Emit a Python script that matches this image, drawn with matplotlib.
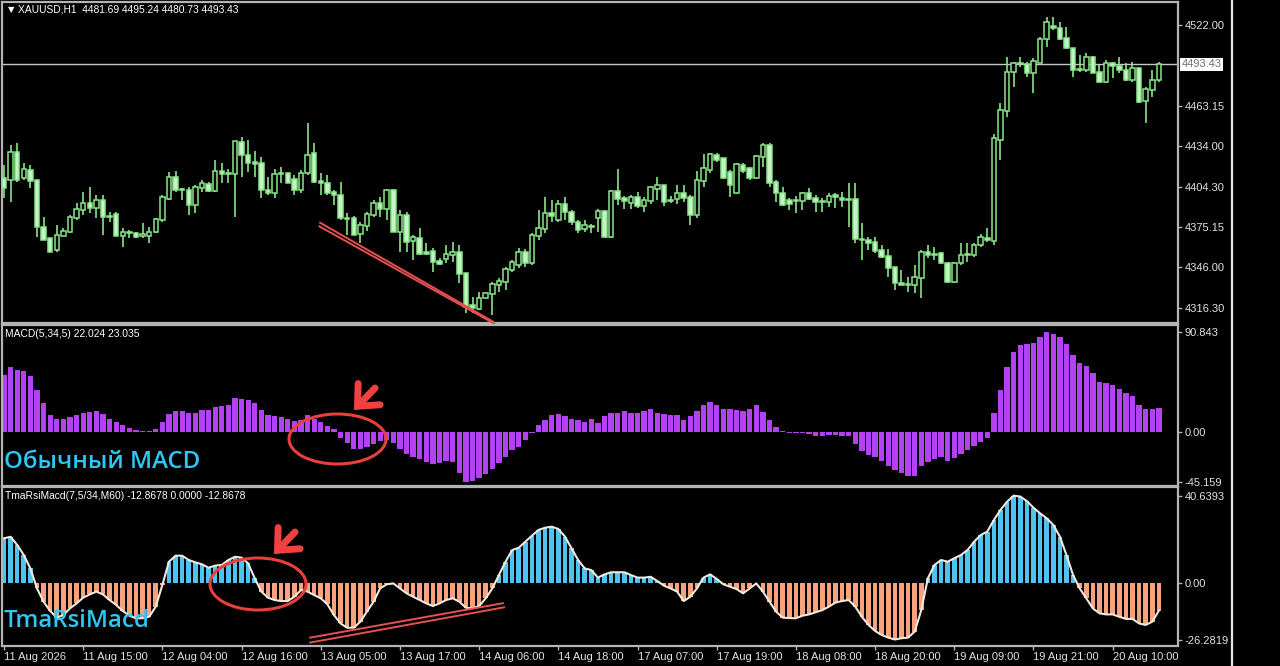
import matplotlib
matplotlib.use("Agg")
import matplotlib.pyplot as plt
import numpy as np
import matplotlib.transforms as mtransforms
from matplotlib.patches import Ellipse, FancyArrowPatch
from matplotlib.lines import Line2D

plt.rcParams['font.family'] = ['Liberation Sans', 'DejaVu Sans']

# ---------------- data ----------------
symbol_title = "XAUUSD,H1  4481.69 4495.24 4480.73 4493.43"
macd_title = "MACD(5,34,5) 22.024 23.035"
tma_title = "TmaRsiMacd(7,5/34,M60) -12.8678 0.0000 -12.8678"
macd_caption = "Обычный MACD"
tma_caption = "TmaRsiMacd"

opens = [
    4410.8, 4409.4, 4429.7, 4410.8, 4416.6, 4409.4, 4375.2, 4367.2, 4358.5, 4368.7,
    4371.6, 4381.8, 4387.6, 4392.7, 4389.0, 4394.9, 4382.5, 4384.7, 4368.7, 4371.6,
    4370.9, 4368.7, 4368.7, 4371.6, 4380.3, 4395.6, 4411.5, 4402.8, 4402.1, 4391.2,
    4403.6, 4406.5, 4401.4, 4415.9, 4413.7, 4413.7, 4437.0, 4427.6, 4422.5, 4421.7,
    4402.1, 4399.9, 4414.5, 4414.5, 4410.1, 4402.1, 4414.5, 4429.0, 4408.6, 4407.2,
    4400.7, 4398.5, 4381.8, 4381.8, 4370.1, 4376.0, 4384.0, 4392.7, 4388.3, 4402.1,
    4371.6, 4384.0, 4365.1, 4367.2, 4357.1, 4357.8, 4350.5, 4352.0, 4354.9, 4357.1,
    4341.8, 4318.5, 4315.6, 4323.6, 4326.5, 4333.1, 4335.3, 4344.0, 4347.6, 4357.1,
    4349.1, 4368.7, 4373.8, 4385.4, 4380.3, 4391.9, 4386.1, 4378.9, 4373.8, 4375.2,
    4381.8, 4386.9, 4368.0, 4401.4, 4396.3, 4392.7, 4397.0, 4390.5, 4394.1, 4402.8,
    4405.7, 4394.9, 4395.6, 4399.9, 4397.0, 4384.0, 4408.6, 4416.6, 4427.6, 4425.4,
    4415.2, 4399.9, 4420.3, 4418.1, 4410.8, 4426.1, 4434.8, 4407.9, 4399.9, 4394.9,
    4394.9, 4394.1, 4399.9, 4396.3, 4394.1, 4393.4, 4398.5, 4396.3, 4395.6, 4395.6,
    4366.5, 4365.8, 4364.3, 4358.5, 4354.2, 4346.2, 4334.5, 4333.1, 4333.1, 4338.2,
    4357.1, 4355.6, 4356.3, 4349.1, 4335.3, 4349.1, 4354.9, 4354.9, 4362.2, 4367.2,
    4365.1, 4438.5, 4459.5, 4487.9, 4494.4, 4493.7, 4487.1, 4494.4, 4511.8, 4521.3,
    4519.8, 4512.6, 4505.3, 4490.1, 4489.3, 4498.8, 4487.9, 4480.6, 4494.4, 4492.2,
    4489.3, 4482.1, 4490.8, 4466.8, 4474.8, 4481.69,
]
highs = [
    4420.3, 4434.8, 4436.3, 4421.7, 4420.3, 4409.4, 4382.5, 4367.2, 4376.7, 4374.5,
    4384.0, 4392.7, 4400.7, 4404.3, 4398.5, 4398.5, 4386.1, 4386.1, 4374.5, 4373.1,
    4371.6, 4378.1, 4375.2, 4381.8, 4398.5, 4415.2, 4415.9, 4403.6, 4404.3, 4405.7,
    4409.4, 4407.9, 4423.9, 4421.7, 4417.4, 4437.7, 4440.6, 4438.5, 4430.5, 4426.1,
    4411.5, 4417.4, 4418.8, 4414.5, 4413.0, 4416.6, 4450.8, 4436.3, 4414.5, 4413.0,
    4402.1, 4407.9, 4385.4, 4383.2, 4378.9, 4386.1, 4394.9, 4397.0, 4402.8, 4402.8,
    4387.6, 4386.1, 4369.4, 4374.5, 4363.6, 4360.0, 4352.7, 4362.2, 4364.3, 4362.2,
    4341.8, 4324.4, 4328.0, 4328.0, 4335.3, 4338.2, 4346.2, 4351.2, 4360.0, 4359.2,
    4370.9, 4387.6, 4397.0, 4394.9, 4394.9, 4397.0, 4387.6, 4380.3, 4380.3, 4377.4,
    4388.3, 4387.6, 4402.1, 4417.4, 4397.8, 4398.5, 4400.7, 4397.0, 4405.0, 4411.5,
    4405.7, 4397.8, 4405.7, 4405.7, 4398.5, 4415.9, 4428.3, 4429.0, 4429.0, 4425.4,
    4416.6, 4421.7, 4421.7, 4418.8, 4427.6, 4436.3, 4436.3, 4409.4, 4404.3, 4396.3,
    4397.8, 4400.7, 4403.6, 4398.5, 4396.3, 4399.9, 4399.9, 4400.7, 4407.2, 4407.2,
    4378.1, 4368.0, 4368.0, 4362.2, 4359.2, 4346.2, 4344.0, 4338.9, 4347.6, 4358.5,
    4362.2, 4360.7, 4357.1, 4349.8, 4349.8, 4363.6, 4363.6, 4363.6, 4370.1, 4374.5,
    4442.8, 4465.4, 4498.8, 4495.1, 4498.8, 4495.1, 4498.0, 4513.3, 4527.8, 4527.8,
    4524.2, 4520.6, 4505.3, 4500.2, 4501.7, 4499.5, 4493.0, 4496.6, 4495.1, 4498.8,
    4494.4, 4495.1, 4490.8, 4477.0, 4489.3, 4495.24,
]
lows = [
    4396.3, 4393.4, 4407.9, 4409.4, 4403.6, 4368.0, 4365.8, 4357.1, 4357.1, 4368.7,
    4370.9, 4380.3, 4384.0, 4385.4, 4381.8, 4369.4, 4378.9, 4368.7, 4360.7, 4367.2,
    4367.2, 4367.2, 4363.6, 4370.9, 4378.9, 4394.9, 4400.7, 4394.9, 4384.0, 4385.4,
    4400.7, 4400.7, 4400.7, 4407.2, 4407.2, 4382.5, 4411.5, 4415.2, 4411.5, 4396.3,
    4398.5, 4396.3, 4407.2, 4407.2, 4398.5, 4399.9, 4413.0, 4407.2, 4398.5, 4398.5,
    4391.2, 4380.3, 4369.4, 4369.4, 4363.6, 4372.3, 4382.5, 4382.5, 4380.3, 4371.6,
    4357.1, 4357.1, 4351.2, 4354.9, 4354.9, 4342.5, 4347.6, 4349.1, 4349.8, 4334.5,
    4312.7, 4312.7, 4314.9, 4322.9, 4311.3, 4328.0, 4329.4, 4342.5, 4345.4, 4346.2,
    4347.6, 4365.8, 4370.9, 4378.9, 4378.9, 4380.3, 4376.7, 4370.9, 4371.6, 4370.9,
    4371.6, 4367.2, 4367.2, 4391.2, 4388.3, 4388.3, 4389.0, 4386.1, 4391.9, 4394.9,
    4390.5, 4392.7, 4391.9, 4393.4, 4376.7, 4381.8, 4404.3, 4414.5, 4422.5, 4410.1,
    4397.0, 4399.2, 4414.5, 4409.4, 4410.1, 4418.8, 4404.3, 4393.4, 4390.5, 4387.6,
    4385.4, 4387.6, 4394.9, 4386.1, 4386.1, 4389.8, 4389.0, 4389.8, 4375.2, 4363.6,
    4351.2, 4358.5, 4356.3, 4352.7, 4338.9, 4329.4, 4333.1, 4328.0, 4327.3, 4323.6,
    4352.7, 4351.2, 4348.3, 4334.5, 4334.5, 4347.6, 4349.8, 4353.4, 4360.7, 4364.3,
    4362.2, 4423.9, 4455.2, 4477.0, 4491.5, 4484.2, 4472.6, 4494.4, 4506.0, 4518.4,
    4511.1, 4504.6, 4484.2, 4487.9, 4487.9, 4487.1, 4479.9, 4479.9, 4483.5, 4487.1,
    4481.3, 4480.6, 4465.4, 4450.8, 4469.7, 4480.73,
]
closes = [
    4403.6, 4429.7, 4409.4, 4417.4, 4408.6, 4375.2, 4365.8, 4357.1, 4369.4, 4372.3,
    4382.5, 4388.3, 4392.7, 4389.0, 4394.9, 4382.5, 4383.2, 4368.7, 4371.6, 4370.9,
    4368.0, 4370.1, 4371.6, 4381.0, 4397.0, 4411.5, 4402.1, 4402.1, 4391.2, 4404.3,
    4407.2, 4401.4, 4415.9, 4413.7, 4414.5, 4437.7, 4427.6, 4421.7, 4421.0, 4402.1,
    4399.9, 4413.7, 4413.7, 4407.2, 4402.1, 4414.5, 4427.6, 4407.9, 4407.2, 4399.9,
    4398.5, 4381.8, 4381.0, 4369.4, 4376.7, 4384.7, 4392.7, 4388.3, 4402.1, 4371.6,
    4384.0, 4364.3, 4368.0, 4355.6, 4355.6, 4349.8, 4348.3, 4355.6, 4357.1, 4341.1,
    4317.1, 4316.4, 4323.6, 4327.3, 4333.8, 4336.0, 4344.7, 4349.8, 4357.1, 4349.1,
    4369.4, 4374.5, 4385.4, 4383.2, 4391.9, 4386.1, 4378.9, 4373.1, 4376.7, 4376.0,
    4386.9, 4368.0, 4401.4, 4395.6, 4394.1, 4397.0, 4390.5, 4394.9, 4404.3, 4405.7,
    4393.4, 4394.1, 4399.9, 4396.3, 4384.0, 4409.4, 4418.1, 4428.3, 4423.9, 4410.8,
    4405.7, 4421.0, 4415.9, 4410.8, 4426.8, 4434.8, 4407.2, 4399.9, 4391.2, 4391.9,
    4394.1, 4399.9, 4395.6, 4393.4, 4393.4, 4397.8, 4397.0, 4394.9, 4394.9, 4366.5,
    4365.8, 4363.6, 4357.8, 4353.4, 4345.4, 4334.5, 4333.1, 4333.8, 4338.9, 4357.1,
    4354.9, 4354.9, 4349.1, 4335.3, 4349.1, 4354.9, 4355.6, 4362.2, 4368.0, 4365.8,
    4439.9, 4460.3, 4487.9, 4494.4, 4493.7, 4487.1, 4495.9, 4511.8, 4524.2, 4519.8,
    4511.8, 4505.3, 4489.3, 4489.3, 4498.8, 4487.1, 4480.6, 4494.4, 4492.2, 4489.3,
    4482.1, 4490.8, 4466.1, 4475.5, 4482.1, 4493.43,
]
macd_hist = [
    52.0, 58.7, 56.6, 55.7, 50.5, 38.2, 26.0, 15.9, 12.2, 11.6,
    13.8, 15.9, 17.7, 18.3, 19.0, 16.8, 12.2, 9.2, 6.7, 3.7,
    1.5, 0.6, 0.6, 3.1, 9.2, 16.8, 19.0, 19.0, 17.7, 17.7,
    19.9, 19.9, 22.9, 23.9, 25.0, 30.6, 30.0, 29.0, 26.0, 19.9,
    15.3, 14.7, 13.8, 12.2, 10.0, 10.7, 15.3, 11.6, 9.2, 5.5,
    2.4, -5.5, -9.8, -15.3, -15.9, -13.8, -11.0, -8.0, -7.0, -10.0,
    -15.9, -19.9, -22.9, -25.0, -27.5, -29.0, -28.4, -26.0, -27.5, -37.3,
    -45.159, -44.5, -42.0, -38.2, -33.6, -28.1, -22.9, -16.8, -13.8, -7.6,
    -0.6, 6.7, 10.7, 15.3, 16.8, 14.7, 11.6, 10.7, 9.2, 11.6,
    8.6, 14.7, 17.7, 17.7, 19.0, 17.7, 17.7, 19.0, 20.8, 17.7,
    16.8, 15.9, 15.3, 10.7, 14.7, 19.0, 25.0, 26.9, 25.0, 20.8,
    20.8, 19.9, 19.0, 20.8, 24.5, 18.3, 10.7, 4.6, 0.6, -0.5,
    -1.0, -0.8, -2.0, -3.5, -4.0, -3.0, -3.0, -3.5, -3.5, -10.7,
    -17.7, -20.8, -22.9, -26.0, -30.6, -34.3, -37.3, -40.4, -39.8, -30.6,
    -27.5, -24.5, -22.9, -26.0, -23.9, -19.9, -16.8, -12.8, -9.2, -5.5,
    17.7, 38.2, 58.7, 72.8, 78.9, 80.1, 81.0, 86.2, 90.843, 89.3,
    86.2, 80.1, 69.7, 62.7, 59.6, 53.5, 45.9, 44.3, 42.8, 39.1,
    35.2, 33.0, 24.5, 20.8, 20.8, 22.024,
]
tma_values = [
    20.8, 21.5, 17.7, 13.0, 6.8, -2.5, -8.7, -13.0, -16.1, -14.9,
    -11.8, -9.5, -6.8, -5.3, -4.0, -5.3, -7.9, -10.2, -13.0, -15.2,
    -16.4, -16.4, -15.7, -11.0, -0.9, 9.9, 12.7, 12.7, 10.7, 9.6,
    8.7, 7.1, 8.1, 8.4, 10.7, 12.2, 11.8, 9.1, 2.2, -4.0,
    -6.8, -7.9, -8.4, -8.4, -6.4, -3.3, -4.0, -5.6, -7.1, -9.9,
    -14.9, -18.8, -20.8, -20.8, -18.0, -13.3, -8.7, -2.5, -0.6, -0.2,
    -2.5, -4.8, -6.4, -7.9, -9.5, -10.7, -9.5, -7.9, -7.1, -8.7,
    -11.5, -11.8, -10.7, -7.1, -2.5, 3.7, 9.9, 15.3, 16.4, 19.2,
    22.0, 24.7, 25.7, 26.2, 25.1, 21.6, 16.1, 10.7, 6.8, 6.0,
    2.5, 4.0, 5.0, 5.0, 5.0, 3.7, 2.5, 2.5, 2.9, 0.9,
    -1.2, -2.5, -4.0, -8.4, -6.4, -2.5, 2.5, 4.0, 1.9, -0.6,
    -1.7, -2.8, -4.8, -2.5, -0.2, -4.0, -8.7, -13.3, -16.1, -16.3,
    -16.4, -15.2, -14.6, -13.6, -12.6, -11.0, -9.1, -8.4, -7.9, -11.0,
    -15.7, -19.5, -22.3, -24.2, -25.4, -26.2819, -25.7, -25.4, -22.6, -12.6,
    2.2, 8.4, 10.7, 9.9, 11.5, 13.0, 15.3, 19.2, 22.3, 23.9,
    29.3, 34.0, 37.8, 40.6393, 40.2, 38.1, 35.0, 32.4, 30.1, 27.0,
    21.6, 13.0, 3.7, -2.5, -7.1, -11.8, -14.1, -14.6, -14.6, -15.7,
    -16.7, -16.7, -18.8, -19.5, -18.0, -12.8678,
]
time_labels = ["11 Aug 2026", "11 Aug 15:00", "12 Aug 04:00", "12 Aug 16:00",
               "13 Aug 05:00", "13 Aug 17:00", "14 Aug 06:00", "14 Aug 18:00",
               "17 Aug 07:00", "17 Aug 19:00", "18 Aug 08:00", "18 Aug 20:00",
               "19 Aug 09:00", "19 Aug 21:00", "20 Aug 10:00"]
label_step = 12
price_ticks = [4522.00, 4463.15, 4434.00, 4404.30, 4375.15, 4346.00, 4316.30]
price_tick_labels = ["4522.00", "4463.15", "4434.00", "4404.30", "4375.15", "4346.00", "4316.30"]
macd_ticks = [90.843, 0.0, -45.159]
macd_tick_labels = ["90.843", "0.00", "-45.159"]
tma_ticks = [40.6393, 0.0, -26.2819]
tma_tick_labels = ["40.6393", "0.00", "-26.2819"]
bid_price = 4493.43

# ---------------- figure ----------------
W, H = 1280, 666
fig = plt.figure(figsize=(W / 100, H / 100), dpi=100, facecolor='black')

def rect(x0, y0, x1, y1):
    return [x0 / W, 1 - y1 / H, (x1 - x0) / W, (y1 - y0) / H]

def F(x, y):
    return (x / W, 1 - y / H)

frame_col = '#B4B4B4'
tick_col = '#E2E2E2'

ax_main = fig.add_axes(rect(2, 2, 1178, 323))
ax_macd = fig.add_axes(rect(2, 325, 1178, 486))
ax_tma = fig.add_axes(rect(2, 487, 1178, 646))

n = len(closes)
x = np.arange(n)
xl = (-0.30, n - 1 + 2.9)

for ax in (ax_main, ax_macd, ax_tma):
    ax.set_facecolor('black')
    for s in ax.spines.values():
        s.set_color(frame_col)
        s.set_linewidth(1.6)
    ax.set_xlim(*xl)
    ax.yaxis.tick_right()
    ax.tick_params(axis='y', colors=frame_col, labelcolor=tick_col, labelsize=8,
                   length=3, width=1, pad=2, direction='out')
    ax.tick_params(axis='x', bottom=False, labelbottom=False)

# ---- candles ----
o = np.array(opens); c = np.array(closes); h = np.array(highs); l = np.array(lows)
edge = '#8AE68A'
bear_face = '#C4F5C4'
bull = c >= o
faces = np.where(bull, 'black', bear_face)
ax_main.vlines(x, l, h, color=edge, linewidth=1.2, zorder=2)
body_h = np.maximum(np.abs(c - o), 0.35)
ax_main.bar(x, body_h, bottom=np.minimum(o, c), width=0.68, color=faces,
            edgecolor=edge, linewidth=1.1, zorder=3)
ax_main.set_ylim(4305.4, 4538.7)
ax_main.set_yticks(price_ticks)
ax_main.set_yticklabels(price_tick_labels)
ax_main.axhline(bid_price, color='#C8C8C8', linewidth=1.0, zorder=1)
bt = mtransforms.blended_transform_factory(ax_main.transAxes, ax_main.transData)
ax_main.text(1.003, bid_price, "4493.43", transform=bt, fontsize=8, color='#707070',
             va='center', ha='left', clip_on=False,
             bbox=dict(boxstyle='square,pad=0.15', facecolor='white', edgecolor='none'))

# trend lines on price (double red)
red_line = '#E65050'
ax_main.plot([47.9, 74.1], [4378.3, 4306.4], color=red_line, lw=1.4, clip_on=False, zorder=4)
ax_main.plot([47.8, 74.65], [4375.6, 4304.0], color=red_line, lw=1.4, clip_on=False, zorder=4)

# ---- MACD ----
ax_macd.bar(x, macd_hist, width=0.8, color='#B342F5', linewidth=0)
ax_macd.set_ylim(-49.1, 97.3)
ax_macd.set_yticks(macd_ticks)
ax_macd.set_yticklabels(macd_tick_labels)

# ---- TmaRsiMacd ----
tv = np.array(tma_values)
tcol = np.where(tv >= 0, '#4DC4F0', '#F7A27C')
ax_tma.bar(x, tv, width=0.7, color=tcol, linewidth=0)
ax_tma.plot(x, tv, color='#F3E8DE', linewidth=1.5)
ax_tma.set_ylim(-29.3, 44.65)
ax_tma.set_yticks(tma_ticks)
ax_tma.set_yticklabels(tma_tick_labels)
ax_tma.plot([46.4, 75.6], [-25.4, -9.4], color=red_line, lw=1.4, clip_on=False)
ax_tma.plot([46.4, 75.8], [-27.7, -11.3], color=red_line, lw=1.4, clip_on=False)

ax_tma.tick_params(axis='x', bottom=True, labelbottom=True, colors=frame_col,
                   labelcolor=tick_col, labelsize=8, length=3, width=1, pad=1,
                   direction='out')
ax_tma.set_xticks(np.arange(0, n, label_step)[:len(time_labels)])
ax_tma.set_xticklabels(time_labels)
for t in ax_tma.get_xticklabels():
    t.set_ha('left')

# ---- header texts ----
fig.text(*F(8, 10), "\u25BC", fontsize=6, color='white', va='center', ha='left',
         family=['DejaVu Sans'])
fig.text(*F(18, 10), symbol_title, fontsize=7.4, color='white', va='center', ha='left')
fig.text(*F(5, 334), macd_title, fontsize=7.4, color='white', va='center', ha='left')
fig.text(*F(5, 496), tma_title, fontsize=7.4, color='white', va='center', ha='left')

cyan = '#2EC6F2'
fig.text(*F(4, 468), macd_caption, fontsize=17.3, color=cyan, va='baseline', ha='left',
         family=['Open Sans', 'DejaVu Sans'], fontweight='semibold')
fig.text(*F(4, 627), tma_caption, fontsize=17.3, color=cyan, va='baseline', ha='left',
         family=['Open Sans', 'DejaVu Sans'], fontweight='semibold')

# ---- red circles and arrows ----
arrow_red = '#F04040'
fig.add_artist(Ellipse(F(337.5, 439), 97 / W, 50 / H, fill=False, edgecolor='#E8403C', lw=2.2))
fig.add_artist(Ellipse(F(258, 584), 96 / W, 52 / H, fill=False, edgecolor='#E8403C', lw=2.2))
for tail, head in [((377, 386), (352, 412)), ((297, 530), (272, 556))]:
    fig.add_artist(FancyArrowPatch(F(*tail), F(*head), transform=fig.transFigure,
                                   arrowstyle='->,head_length=0.55,head_width=0.5',
                                   mutation_scale=22, color=arrow_red, lw=5,
                                   capstyle='round', joinstyle='miter'))

# right-side vertical separator
fig.add_artist(Line2D([1232 / W, 1232 / W], [0, 1], color='#E6E6E6', lw=1.6))

fig.savefig('out.png', dpi=100, facecolor='black')
